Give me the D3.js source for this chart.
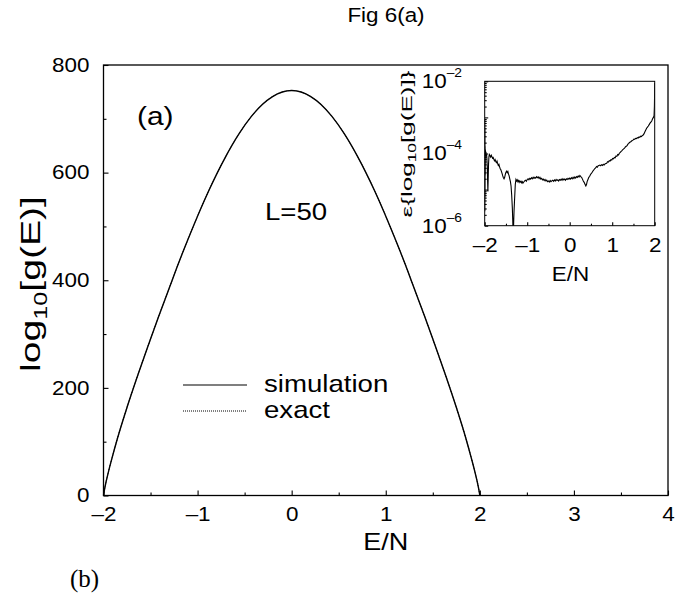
<!DOCTYPE html>
<html>
<head>
<meta charset="utf-8">
<script src="https://cdn.jsdelivr.net/npm/d3@7"></script>
<style>
  body { margin: 0; background: #fff; }
  svg { display: block; }
</style>
</head>
<body>
<div id="chart"></div>
<script>
// Fig 6(a): log10 g(E) for L=50, with relative error inset
(function() {
  if (typeof d3 === 'undefined') {
    console.error('D3.js not loaded');
    return;
  }

  // main panel: E/N vs log10[g(E)]
  const energy = [-2.000, -1.997, -1.985, -1.943, -1.909, -1.852, -1.749, -1.634, -1.513, -1.414,
    -1.300, -1.226, -1.106, -0.879, -0.704, -0.557, -0.428, -0.312, -0.203, -0.100, 0.000,
    0.100, 0.203, 0.312, 0.428, 0.557, 0.704, 0.879, 1.106, 1.226, 1.300,
    1.414, 1.513, 1.634, 1.749, 1.852, 1.909, 1.943, 1.985, 1.997, 2.000];
  const simLog10g = [0.3, 3.5, 15.1, 47.2, 70.0, 106.0, 164.3, 224.4, 284.5, 332.7,
    386.0, 420.9, 474.3, 567.3, 628.9, 672.9, 704.5, 726.7, 741.4, 749.8, 752.6,
    749.8, 741.4, 726.7, 704.5, 672.9, 628.9, 567.3, 474.3, 420.9, 386.0,
    332.7, 284.5, 224.4, 164.3, 106.0, 70.0, 47.2, 15.1, 3.5, 0.3];
  const exactLog10g = [0.3, 3.5, 15.1, 47.2, 70.0, 106.0, 164.3, 224.4, 284.5, 332.7,
    386.0, 420.9, 474.3, 567.3, 628.9, 672.9, 704.5, 726.7, 741.4, 749.8, 752.6,
    749.8, 741.4, 726.7, 704.5, 672.9, 628.9, 567.3, 474.3, 420.9, 386.0,
    332.7, 284.5, 224.4, 164.3, 106.0, 70.0, 47.2, 15.1, 3.5, 0.3];

  const xTicks = [-2, -1, 0, 1, 2, 3, 4];
  const xMinorTicks = [-1.5, -0.5, 0.5, 1.5, 2.5, 3.5];
  const yTicks = [0, 200, 400, 600, 800];
  const yMinorTicks = [100, 300, 500, 700];
  const legendLabels = ["simulation", "exact"];

  // inset: E/N vs log10 of the relative error
  const insetEnergy = [-2.000, -1.998, -1.996, -1.994, -1.992, -1.989, -1.985, -1.978, -1.970, -1.962,
    -1.955, -1.948, -1.940, -1.932, -1.925, -1.918, -1.910, -1.900, -1.890, -1.875,
    -1.860, -1.845, -1.830, -1.815, -1.800, -1.785, -1.770, -1.755, -1.740, -1.725,
    -1.710, -1.695, -1.680, -1.665, -1.650, -1.635, -1.620, -1.605, -1.590, -1.575,
    -1.560, -1.545, -1.530, -1.515, -1.500, -1.485, -1.470, -1.455, -1.440, -1.425,
    -1.410, -1.395, -1.380, -1.365, -1.350, -1.340, -1.332, -1.325, -1.318, -1.310,
    -1.300, -1.290, -1.280, -1.265, -1.250, -1.235, -1.220, -1.205, -1.190, -1.175,
    -1.160, -1.145, -1.130, -1.115, -1.100, -1.080, -1.060, -1.040, -1.020, -1.000,
    -0.980, -0.960, -0.940, -0.920, -0.900, -0.880, -0.860, -0.840, -0.820, -0.800,
    -0.780, -0.760, -0.740, -0.720, -0.700, -0.680, -0.660, -0.640, -0.620, -0.600,
    -0.580, -0.560, -0.540, -0.520, -0.500, -0.480, -0.460, -0.440, -0.420, -0.400,
    -0.380, -0.360, -0.340, -0.320, -0.300, -0.280, -0.260, -0.240, -0.220, -0.200,
    -0.180, -0.160, -0.140, -0.120, -0.100, -0.080, -0.060, -0.040, -0.020, 0.000,
    0.020, 0.040, 0.060, 0.080, 0.100, 0.120, 0.140, 0.160, 0.180, 0.200,
    0.220, 0.240, 0.260, 0.280, 0.300, 0.320, 0.340, 0.360, 0.380, 0.395,
    0.410, 0.430, 0.450, 0.470, 0.490, 0.510, 0.530, 0.550, 0.570, 0.590,
    0.610, 0.630, 0.650, 0.670, 0.690, 0.710, 0.730, 0.750, 0.770, 0.790,
    0.810, 0.830, 0.850, 0.870, 0.890, 0.910, 0.930, 0.950, 0.970, 0.990,
    1.010, 1.030, 1.050, 1.070, 1.090, 1.110, 1.130, 1.150, 1.170, 1.190,
    1.210, 1.230, 1.250, 1.270, 1.290, 1.310, 1.330, 1.350, 1.370, 1.390,
    1.410, 1.430, 1.450, 1.470, 1.490, 1.510, 1.530, 1.550, 1.570, 1.590,
    1.610, 1.630, 1.650, 1.670, 1.690, 1.710, 1.730, 1.750, 1.770, 1.790,
    1.810, 1.830, 1.850, 1.870, 1.890, 1.910, 1.930, 1.950, 1.970, 1.985,
    1.993, 1.997, 2.000];
  const insetLog10Err = [-3.05, -5.60, -3.30, -5.20, -3.80, -4.60, -3.90, -4.05, -3.95, -4.08,
    -4.02, -4.15, -4.35, -4.75, -5.05, -4.70, -4.30, -4.08, -4.03, -4.06,
    -4.10, -4.05, -4.09, -4.13, -4.11, -4.16, -4.20, -4.17, -4.22, -4.25,
    -4.21, -4.28, -4.33, -4.30, -4.37, -4.42, -4.45, -4.50, -4.56, -4.62,
    -4.67, -4.70, -4.66, -4.58, -4.52, -4.49, -4.53, -4.50, -4.57, -4.62,
    -4.70, -4.78, -4.90, -5.15, -5.50, -5.85, -6.20, -6.20, -5.90, -5.60,
    -5.35, -5.10, -4.85, -4.72, -4.76, -4.73, -4.78, -4.75, -4.80, -4.76,
    -4.79, -4.77, -4.81, -4.78, -4.82, -4.79, -4.76, -4.74, -4.77, -4.72,
    -4.70, -4.73, -4.69, -4.71, -4.67, -4.70, -4.66, -4.69, -4.66, -4.68,
    -4.64, -4.67, -4.65, -4.69, -4.66, -4.71, -4.69, -4.73, -4.71, -4.75,
    -4.72, -4.76, -4.74, -4.78, -4.76, -4.79, -4.75, -4.78, -4.76, -4.74,
    -4.77, -4.73, -4.76, -4.72, -4.75, -4.73, -4.76, -4.72, -4.74, -4.71,
    -4.74, -4.70, -4.73, -4.71, -4.74, -4.70, -4.72, -4.69, -4.71, -4.68,
    -4.71, -4.67, -4.70, -4.66, -4.69, -4.65, -4.68, -4.64, -4.66, -4.62,
    -4.65, -4.61, -4.64, -4.66, -4.71, -4.76, -4.80, -4.85, -4.90, -4.86,
    -4.78, -4.72, -4.66, -4.63, -4.58, -4.55, -4.52, -4.48, -4.45, -4.42,
    -4.40, -4.36, -4.38, -4.34, -4.33, -4.32, -4.34, -4.31, -4.33, -4.30,
    -4.32, -4.29, -4.28, -4.27, -4.23, -4.24, -4.20, -4.21, -4.17, -4.18,
    -4.14, -4.15, -4.11, -4.12, -4.07, -4.08, -4.03, -4.04, -3.99, -3.97,
    -3.94, -3.92, -3.89, -3.87, -3.85, -3.82, -3.80, -3.78, -3.74, -3.72,
    -3.69, -3.68, -3.66, -3.64, -3.63, -3.60, -3.61, -3.58, -3.59, -3.56,
    -3.57, -3.54, -3.55, -3.52, -3.53, -3.50, -3.49, -3.45, -3.40, -3.35,
    -3.30, -3.27, -3.24, -3.20, -3.16, -3.13, -3.10, -3.04, -3.00, -2.95,
    -2.70, -2.40, -2.05];

  const insetXTicks = [-2, -1, 0, 1, 2];
  const insetXMinorTicks = [-1.5, -0.5, 0.5, 1.5];
  const insetDecades = [1e-6, 1e-5, 1e-4, 1e-3, 1e-2];
  const insetLabelExps = [-2, -4, -6];

  const width = 687, height = 601;
  const font = "'Liberation Sans', Arial, sans-serif";
  const fmt = d => d < 0 ? "\u2013" + Math.abs(d) : String(d);

  // the original lettering is a little wider than Helvetica
  function widen(sel, s) {
    s = s || 1.15;
    sel.each(function() {
      const t = d3.select(this);
      const x0 = +t.attr("x") || 0;
      t.attr("transform", `translate(${x0},0) scale(${s},1) translate(${-x0},0)`);
    });
  }

  const svg = d3.select("#chart").append("svg")
    .attr("width", width)
    .attr("height", height)
    .attr("viewBox", `0 0 ${width} ${height}`);

  svg.append("rect").attr("width", width).attr("height", height).attr("fill", "#fff");

  // ---------- main panel ----------
  const frame = { left: 103.5, right: 668, top: 65, bottom: 495.5 };
  const x = d3.scaleLinear().domain([-2, 4]).range([frame.left, frame.right]);
  const y = d3.scaleLinear().domain([0, 800]).range([frame.bottom, frame.top]);

  svg.append("text")
    .attr("x", 386).attr("y", 22)
    .attr("text-anchor", "middle")
    .attr("font-family", font).attr("font-size", 19.5)
    .text("Fig 6(a)")
    .call(widen);

  const xAxis = svg.append("g")
    .attr("transform", `translate(0,${frame.bottom})`)
    .call(d3.axisBottom(x).tickValues(xTicks).tickSize(-5).tickPadding(12).tickFormat(fmt));
  xAxis.select(".domain").remove();
  xAxis.selectAll("text").attr("font-family", font).attr("font-size", 19.5).call(widen);

  const xMinor = svg.append("g")
    .attr("transform", `translate(0,${frame.bottom})`)
    .call(d3.axisBottom(x).tickValues(xMinorTicks).tickSize(-3).tickFormat(""));
  xMinor.select(".domain").remove();

  const yAxis = svg.append("g")
    .attr("transform", `translate(${frame.left},0)`)
    .call(d3.axisLeft(y).tickValues(yTicks).tickSize(-5).tickPadding(14));
  yAxis.select(".domain").remove();
  yAxis.selectAll("text").attr("font-family", font).attr("font-size", 19.5).call(widen);

  const yMinor = svg.append("g")
    .attr("transform", `translate(${frame.left},0)`)
    .call(d3.axisLeft(y).tickValues(yMinorTicks).tickSize(-3).tickFormat(""));
  yMinor.select(".domain").remove();

  svg.append("rect")
    .attr("x", frame.left).attr("y", frame.top)
    .attr("width", frame.right - frame.left)
    .attr("height", frame.bottom - frame.top)
    .attr("fill", "none").attr("stroke", "#000").attr("stroke-width", 1.3);

  const mainLine = d3.line()
    .x(d => x(d[0]))
    .y(d => y(d[1]))
    .curve(d3.curveMonotoneX);

  svg.append("path")
    .datum(d3.zip(energy, exactLog10g))
    .attr("d", mainLine)
    .attr("fill", "none").attr("stroke", "#000")
    .attr("stroke-width", 1).attr("stroke-dasharray", "1,1");

  svg.append("path")
    .datum(d3.zip(energy, simLog10g))
    .attr("d", mainLine)
    .attr("fill", "none").attr("stroke", "#000").attr("stroke-width", 1.4);

  svg.append("text")
    .attr("x", 385.7).attr("y", 550)
    .attr("text-anchor", "middle")
    .attr("font-family", font).attr("font-size", 23.5)
    .text("E/N")
    .call(widen);

  // rotated y label, stretched along its length like the original
  const yLab = svg.append("text")
    .attr("text-anchor", "middle")
    .attr("font-family", font).attr("font-size", 28);
  yLab.append("tspan").text("log");
  yLab.append("tspan").attr("font-size", 18).attr("dy", 7).text("10");
  yLab.append("tspan").attr("dy", -7).text("[g(E)]");
  const yLabW = yLab.node().getBBox().width;
  yLab.attr("transform", `translate(40,284) rotate(-90) scale(${176 / yLabW},1)`);

  svg.append("text")
    .attr("x", 137).attr("y", 125)
    .attr("font-family", font).attr("font-size", 26)
    .text("(a)")
    .call(widen);

  svg.append("text")
    .attr("x", 265).attr("y", 220)
    .attr("font-family", font).attr("font-size", 24)
    .text("L=50")
    .call(widen);

  // legend
  const legend = svg.append("g");
  legendLabels.forEach((lab, i) => {
    const ly = 385 + i * 26;
    legend.append("line")
      .attr("x1", 183).attr("x2", 247).attr("y1", ly).attr("y2", ly)
      .attr("stroke", "#000")
      .attr("stroke-width", i === 0 ? 1.2 : 1)
      .attr("stroke-dasharray", i === 0 ? null : "1,1");
    legend.append("text")
      .attr("x", 264).attr("y", ly + 7)
      .attr("font-family", font).attr("font-size", 24)
      .text(lab)
      .call(widen);
  });

  svg.append("text")
    .attr("x", 70).attr("y", 587)
    .attr("font-family", "'Liberation Serif', 'DejaVu Serif', serif").attr("font-size", 25)
    .text("(b)");

  // ---------- inset ----------
  const inset = { left: 484.7, right: 654.7, top: 81.3, bottom: 225.7 };
  const ix = d3.scaleLinear().domain([-2, 2]).range([inset.left, inset.right]);
  const iy = d3.scaleLog().domain([1e-6, 1e-2]).range([inset.bottom, inset.top]);

  svg.append("rect")
    .attr("x", inset.left).attr("y", inset.top)
    .attr("width", inset.right - inset.left)
    .attr("height", inset.bottom - inset.top)
    .attr("fill", "#fff");

  svg.append("clipPath").attr("id", "inset-clip")
    .append("rect")
    .attr("x", inset.left).attr("y", inset.top - 1)
    .attr("width", inset.right - inset.left)
    .attr("height", inset.bottom - inset.top + 1);

  svg.append("path")
    .datum(d3.zip(insetEnergy, insetLog10Err))
    .attr("clip-path", "url(#inset-clip)")
    .attr("d", d3.line().x(d => ix(d[0])).y(d => iy(Math.pow(10, d[1]))))
    .attr("fill", "none").attr("stroke", "#000").attr("stroke-width", 1.1);

  const ixAxis = svg.append("g")
    .attr("transform", `translate(0,${inset.bottom})`)
    .call(d3.axisBottom(ix).tickValues(insetXTicks).tickSize(-3.5).tickPadding(12.5).tickFormat(fmt));
  ixAxis.select(".domain").remove();
  ixAxis.selectAll("text").attr("font-family", font).attr("font-size", 19.5).call(widen);

  const ixMinor = svg.append("g")
    .attr("transform", `translate(0,${inset.bottom})`)
    .call(d3.axisBottom(ix).tickValues(insetXMinorTicks).tickSize(-2).tickFormat(""));
  ixMinor.select(".domain").remove();

  const iyMinorVals = [];
  insetDecades.slice(0, -1).forEach(dec => {
    d3.range(2, 10).forEach(m => iyMinorVals.push(dec * m));
  });

  const iyAxis = svg.append("g")
    .attr("transform", `translate(${inset.left},0)`)
    .call(d3.axisLeft(iy).tickValues(insetDecades).tickSize(-3.5).tickFormat(""));
  iyAxis.select(".domain").remove();

  const iyMinor = svg.append("g")
    .attr("transform", `translate(${inset.left},0)`)
    .call(d3.axisLeft(iy).tickValues(iyMinorVals).tickSize(-2).tickFormat(""));
  iyMinor.select(".domain").remove();

  svg.selectAll(".tick line").attr("stroke", "#000").attr("stroke-width", 1.1);

  insetLabelExps.forEach(e => {
    const t = svg.append("text")
      .attr("x", 462).attr("y", iy(Math.pow(10, e)) + 7)
      .attr("text-anchor", "end")
      .attr("font-family", font).attr("font-size", 19.5);
    t.append("tspan").text("10");
    t.append("tspan").attr("font-size", 12).attr("dy", -11).text(fmt(e));
    t.call(widen);
  });

  svg.append("rect")
    .attr("x", inset.left).attr("y", inset.top)
    .attr("width", inset.right - inset.left)
    .attr("height", inset.bottom - inset.top)
    .attr("fill", "none").attr("stroke", "#000").attr("stroke-width", 1);

  svg.append("text")
    .attr("x", 570.5).attr("y", 281)
    .attr("text-anchor", "middle")
    .attr("font-family", font).attr("font-size", 19.5)
    .text("E/N")
    .call(widen);

  const iyLab = svg.append("text")
    .attr("text-anchor", "middle")
    .attr("font-family", font).attr("font-size", 15);
  iyLab.append("tspan").text("\u03b5{log");
  iyLab.append("tspan").attr("font-size", 10).attr("dy", 3.5).text("10");
  iyLab.append("tspan").attr("dy", -3.5).text("[g(E)]}");
  const iyLabW = iyLab.node().getBBox().width;
  iyLab.attr("transform", `translate(412,144) rotate(-90) scale(${147 / iyLabW},1)`);
})();
</script>
</body>
</html>
